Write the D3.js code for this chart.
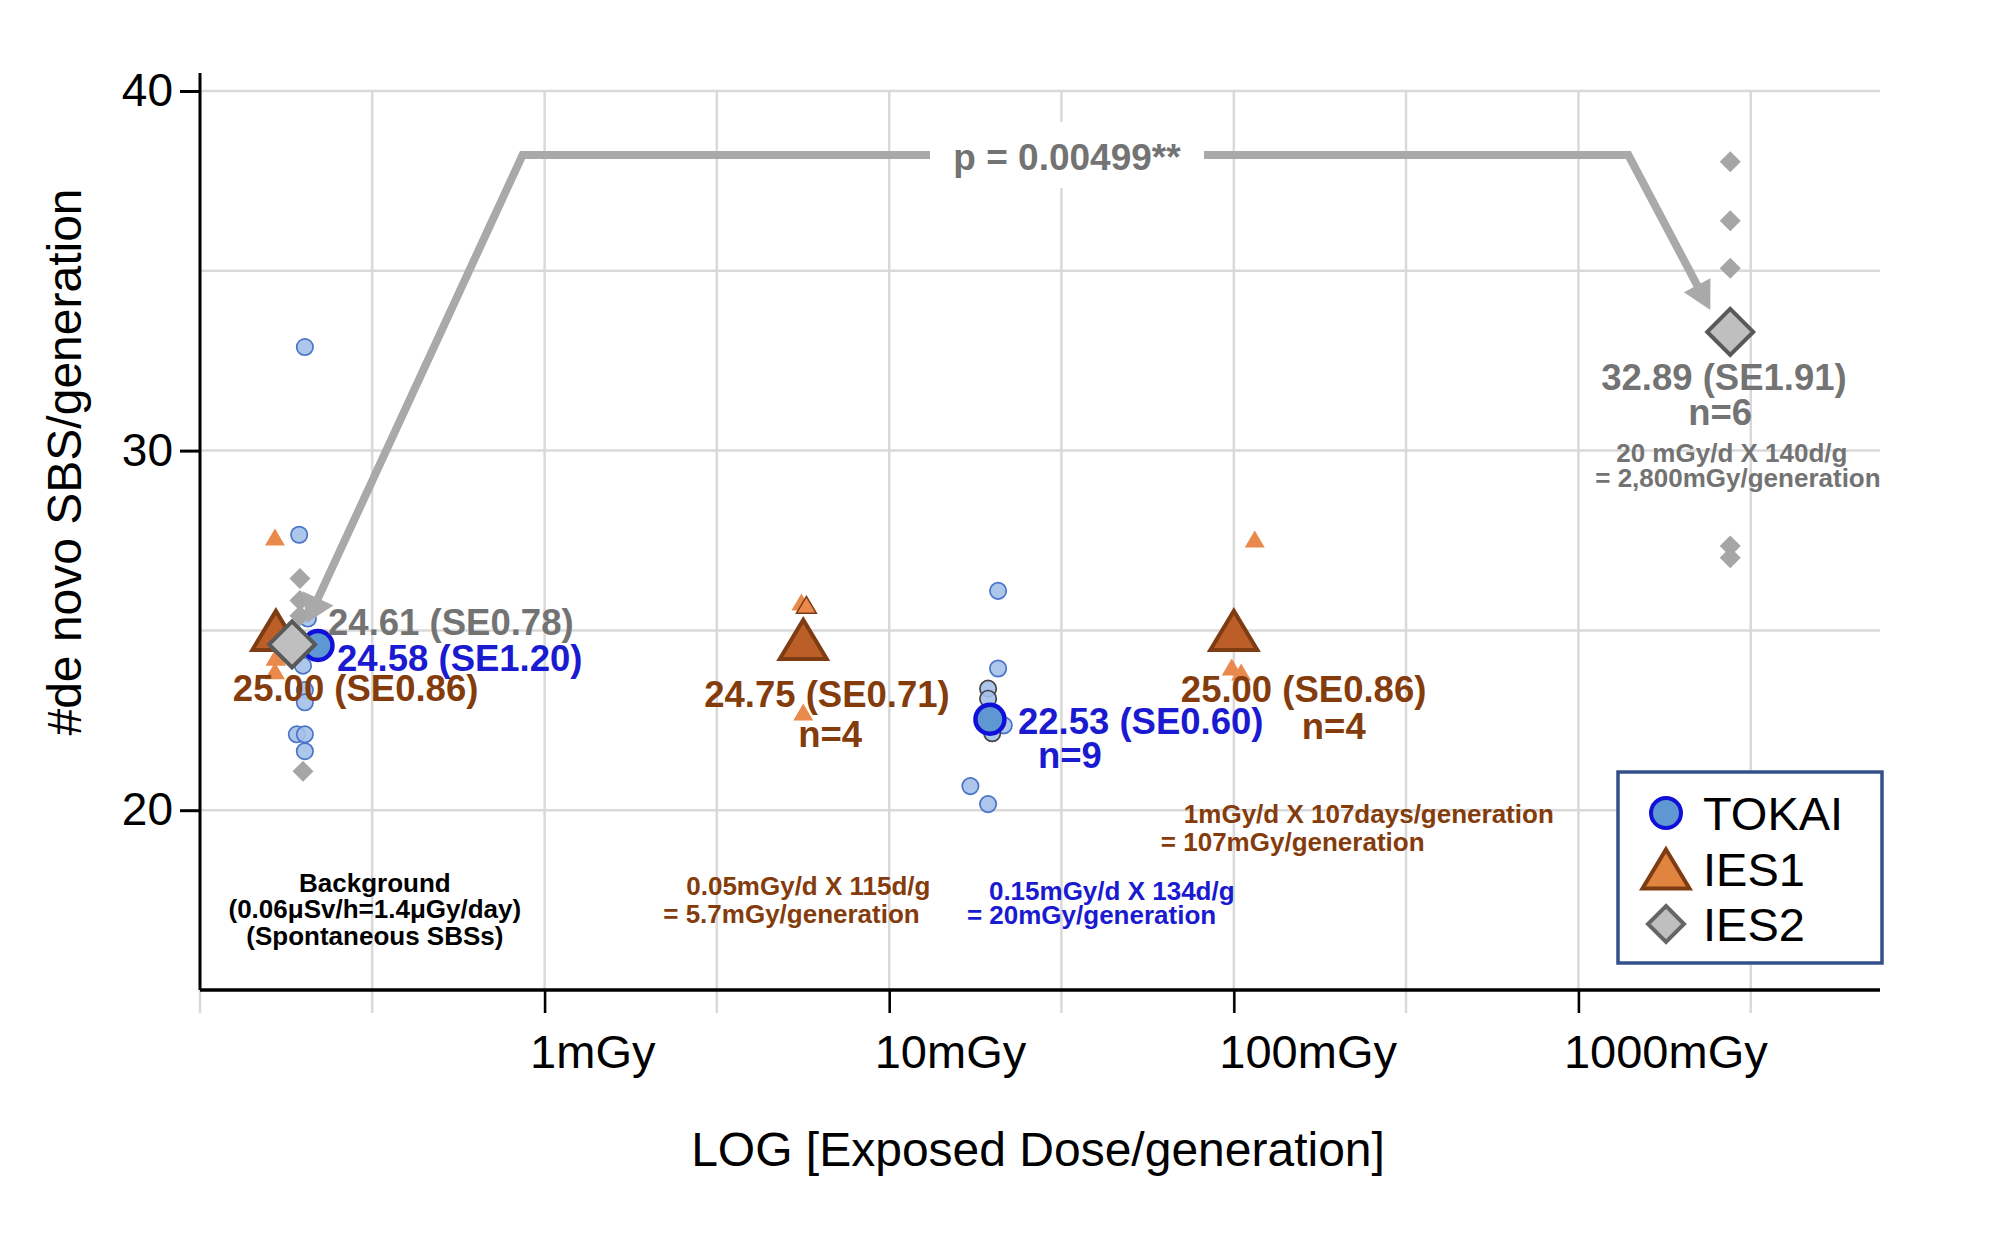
<!DOCTYPE html>
<html><head><meta charset="utf-8">
<script src="https://cdn.jsdelivr.net/npm/d3@7"></script>
<style>
html,body{margin:0;padding:0;background:#fff;}
svg{display:block;font-family:"Liberation Sans",Arial,Helvetica,sans-serif;}
</style></head><body>
<svg id="chart" width="2004" height="1234"></svg>
<script>
// ---------------- DATA ----------------
const xTickValues = [1, 10, 100, 1000];
const xTickLabels = ["1mGy", "10mGy", "100mGy", "1000mGy"];
const xGridValues = [0.1, 0.316, 1, 3.16, 10, 31.6, 100, 316, 1000, 3162];
const yTickValues = [20, 30, 40];
const yGridValues = [20, 25, 30, 35, 40];
const seriesNames = ["TOKAI", "IES1", "IES2"];

// individual samples (dose in mGy/generation, SBS/generation)
const tokaiDose  = [0.2015, 0.194, 0.2056, 0.199, 0.2015, 0.2015, 0.191, 0.2015, 0.2015,
                    20.7, 20.7, 19.36, 19.36, 19.6, 21.5, 19.9, 17.2, 19.36];
const tokaiValue = [32.88, 27.66, 25.33, 24.02, 23.34, 23.0, 22.11, 22.11, 21.64,
                    26.10, 23.94, 23.38, 23.10, 22.5, 22.36, 22.14, 20.67, 20.17];
const ies1Dose   = [0.165, 0.165, 0.166, 0.166, 5.56, 5.75, 5.63, 5.63, 115, 98.6, 105, 100];
const ies1Value  = [27.60, 23.88, 24.26, 24.26, 25.79, 25.71, 22.73, 24.70, 27.54, 23.98, 23.84, 24.64];
const ies2Dose   = [0.195, 0.195, 0.195, 0.199, 2757, 2757, 2757, 2757, 2757, 2757];
const ies2Value  = [26.44, 25.83, 25.41, 21.08, 38.03, 36.39, 35.07, 33.48, 27.35, 27.02];

// group means
const tokaiMeanDose  = [0.22, 19.6];
const tokaiMeanValue = [24.58, 22.53];
const ies1MeanDose   = [0.166, 5.63, 100];
const ies1MeanValue  = [25.00, 24.75, 25.00];
const ies2MeanDose   = [0.185, 2757];
const ies2MeanValue  = [24.61, 33.3];

// annotation texts
const tokaiMeanLabels = ["24.58 (SE1.20)", "22.53 (SE0.60)"];
const ies1MeanLabels  = ["25.00 (SE0.86)", "24.75 (SE0.71)", "25.00 (SE0.86)"];
const ies2MeanLabels  = ["24.61 (SE0.78)", "32.89 (SE1.91)"];
const nLabels = ["n=4", "n=9", "n=4", "n=6"];
const doseNotes = [
  ["0.05mGy/d X 115d/g", "= 5.7mGy/generation"],
  ["0.15mGy/d X 134d/g", "= 20mGy/generation"],
  ["1mGy/d X 107days/generation", "= 107mGy/generation"],
  ["20 mGy/d X 140d/g", "= 2,800mGy/generation"]
];
const backgroundNote = ["Background", "(0.06\u03bcSv/h=1.4\u03bcGy/day)", "(Spontaneous SBSs)"];

// p-value bracket (dose, value) and label
const pBracketDose  = [0.204, 0.863, 1396, 2413];
const pBracketValue = [25.21, 38.22, 38.22, 33.91];
const pLabel = "p = 0.00499**";
const pLabelDose = 32.8;

const xTitle = "LOG [Exposed Dose/generation]";
const yTitle = "#de novo SBS/generation";

// ---------------- STYLE ----------------
const C = {
  grid: "#d9d9d9", arrow: "#a9a9a9",
  blueText: "#1a1ad0", brownText: "#843c0c", grayText: "#737373",
  tokaiSmallFill: "#a5c1ea", tokaiSmallStroke: "#4a74c8", darkRing: "#454545",
  tokaiBigFill: "#5f97d2", tokaiBigStroke: "#1010d8",
  ies1SmallFill: "#e98a4c", ies1BigFill: "#bc5e28", ies1Stroke: "#7e3c12", ies1LegendFill: "#e0843f",
  ies2SmallFill: "#a6a6a6", ies2BigFill: "#bfbfbf", ies2Stroke: "#595959",
  legendBorder: "#34508a"
};
const darkRingIdx = [11, 12, 15];      // TOKAI samples drawn with a dark outline
const outlinedTriIdx = [5];            // IES1 sample drawn with a dark outline

const svg = d3.select("#chart");
const x = d3.scaleLog().domain([0.1, 7500]).range([200, 1880]);
const y = d3.scaleLinear().domain([15, 40]).range([990, 91]);

// gridlines
svg.append("g").selectAll("line").data(yGridValues).join("line")
  .attr("x1", x(0.1)).attr("x2", x(7500))
  .attr("y1", d => y(d)).attr("y2", d => y(d))
  .attr("stroke", C.grid).attr("stroke-width", 2.5);
svg.append("g").selectAll("line").data(xGridValues).join("line")
  .attr("x1", d => x(d)).attr("x2", d => x(d))
  .attr("y1", y(40)).attr("y2", y(15) + 23)
  .attr("stroke", C.grid).attr("stroke-width", 2.5);

// axes
const yAxisG = svg.append("g").attr("transform", `translate(${x(0.1)},0)`)
  .call(d3.axisLeft(y).tickValues(yTickValues).tickSize(20).tickPadding(7).tickFormat(d3.format("d")));
yAxisG.select(".domain").attr("d", `M0,${y(40.5)}V${y(15)}`).attr("stroke", "#000").attr("stroke-width", 3);
yAxisG.selectAll(".tick line").attr("stroke", "#000").attr("stroke-width", 3);
yAxisG.selectAll(".tick text").attr("font-size", 46).attr("fill", "#000")
  .attr("font-family", '"Liberation Sans",Arial,sans-serif');

const xAxisG = svg.append("g").attr("transform", `translate(0,${y(15)})`)
  .call(d3.axisBottom(x).tickValues(xTickValues).tickSize(23).tickFormat((d, i) => xTickLabels[i]));
xAxisG.select(".domain").attr("d", `M${x(0.1)},0H${x(7500)}`).attr("stroke", "#000").attr("stroke-width", 3.5);
xAxisG.selectAll(".tick line").attr("stroke", "#000").attr("stroke-width", 2.5);
xAxisG.selectAll(".tick text").attr("font-size", 47).attr("fill", "#000")
  .attr("text-anchor", "start").attr("x", -15).attr("y", 78).attr("dy", 0)
  .attr("font-family", '"Liberation Sans",Arial,sans-serif');

// titles
svg.append("text").attr("x", 1038).attr("y", 1166).attr("text-anchor", "middle")
  .attr("font-size", 48).attr("fill", "#000").text(xTitle);
svg.append("text").attr("transform", "translate(81,462) rotate(-90)").attr("text-anchor", "middle")
  .attr("font-size", 48).attr("fill", "#000").text(yTitle);

// symbol helpers
const triPath = (w, h) => `M0,${-h/2}L${w/2},${h/2}L${-w/2},${h/2}Z`;
const diaPath = r => `M0,${-r}L${r},0L0,${r}L${-r},0Z`;

// small points
const pts = svg.append("g");
pts.selectAll(".tok").data(tokaiValue.map((v, i) => [tokaiDose[i], v, i])).join("circle")
  .attr("cx", d => x(d[0])).attr("cy", d => y(d[1])).attr("r", 8.2)
  .attr("fill", C.tokaiSmallFill).attr("fill-opacity", 0.92)
  .attr("stroke", d => darkRingIdx.includes(d[2]) ? C.darkRing : C.tokaiSmallStroke)
  .attr("stroke-width", 1.7);
pts.selectAll(".ies1").data(ies1Value.map((v, i) => [ies1Dose[i], v, i])).join("path")
  .attr("transform", d => `translate(${x(d[0])},${y(d[1])})`).attr("d", triPath(20, 17))
  .attr("fill", C.ies1SmallFill)
  .attr("stroke", d => outlinedTriIdx.includes(d[2]) ? C.ies1Stroke : "none").attr("stroke-width", 1.5);
pts.selectAll(".ies2").data(ies2Value.map((v, i) => [ies2Dose[i], v])).join("path")
  .attr("transform", d => `translate(${x(d[0])},${y(d[1])})`).attr("d", diaPath(10.5))
  .attr("fill", C.ies2SmallFill);

// p-value bracket with arrowheads
const bp = pBracketDose.map((d, i) => [x(d), y(pBracketValue[i])]);
function arrowHead(P, T, L, W) {
  const dx = T[0] - P[0], dy = T[1] - P[1], len = Math.hypot(dx, dy);
  const ux = dx / len, uy = dy / len, nx = -uy, ny = ux;
  const b = [T[0] - ux * L, T[1] - uy * L];
  return { base: [b[0] + ux * 2, b[1] + uy * 2],
    poly: [T, [b[0] + nx * W, b[1] + ny * W], [b[0] - nx * W, b[1] - ny * W]] };
}
const ahL = arrowHead(bp[1], bp[0], 27, 17);
const ahR = arrowHead(bp[2], bp[3], 28, 15);
const linePts = [ahL.base, bp[1], bp[2], ahR.base];
svg.append("path").attr("d", d3.line()(linePts)).attr("fill", "none")
  .attr("stroke", C.arrow).attr("stroke-width", 8).attr("stroke-linejoin", "miter");
[ahL, ahR].forEach(a => svg.append("path").attr("d", d3.line()(a.poly) + "Z").attr("fill", C.arrow));
const pcx = x(pLabelDose);
svg.append("rect").attr("x", pcx - 137).attr("y", bp[1][1] - 33).attr("width", 274).attr("height", 66).attr("fill", "#fff");
svg.append("text").attr("x", pcx).attr("y", bp[1][1] + 15).attr("text-anchor", "middle")
  .attr("font-size", 37).attr("font-weight", "bold").attr("fill", C.grayText).text(pLabel);

// mean markers
const big = svg.append("g");
big.selectAll(".tm").data(tokaiMeanValue.map((v, i) => [tokaiMeanDose[i], v])).join("circle")
  .attr("cx", d => x(d[0])).attr("cy", d => y(d[1])).attr("r", 14.5)
  .attr("fill", C.tokaiBigFill).attr("stroke", C.tokaiBigStroke).attr("stroke-width", 4.5);
big.selectAll(".im").data(ies1MeanValue.map((v, i) => [ies1MeanDose[i], v])).join("path")
  .attr("transform", d => `translate(${x(d[0])},${y(d[1])})`).attr("d", triPath(47, 39))
  .attr("fill", C.ies1BigFill).attr("stroke", C.ies1Stroke).attr("stroke-width", 4);
big.selectAll(".dm").data(ies2MeanValue.map((v, i) => [ies2MeanDose[i], v])).join("path")
  .attr("transform", d => `translate(${x(d[0])},${y(d[1])})`).attr("d", diaPath(23))
  .attr("fill", C.ies2BigFill).attr("stroke", C.ies2Stroke).attr("stroke-width", 4);

// annotation helper (anchored to a mean marker, offset in px)
const ann = svg.append("g").attr("font-weight", "bold");
function label(dose, val, dx, dy, txt, color, size, anchor) {
  ann.append("text").attr("x", x(dose) + dx).attr("y", y(val) + dy)
    .attr("text-anchor", anchor || "start").attr("font-size", size).attr("fill", color).text(txt);
}
const S = 36.5, N = 26;
// background group
label(ies2MeanDose[0], ies2MeanValue[0], 36, -9, ies2MeanLabels[0], C.grayText, S);
label(tokaiMeanDose[0], tokaiMeanValue[0], 19, 25, tokaiMeanLabels[0], C.blueText, S);
label(ies1MeanDose[0], ies1MeanValue[0], -43, 71, ies1MeanLabels[0], C.brownText, S);
backgroundNote.forEach((t, i) => label(ies1MeanDose[0], ies1MeanValue[0], 99, 262 + [0, 26, 53][i], t, "#000", N, "middle"));
// 5.7 mGy
label(ies1MeanDose[1], ies1MeanValue[1], -99, 68, ies1MeanLabels[1], C.brownText, S);
label(ies1MeanDose[1], ies1MeanValue[1], -5, 108, nLabels[0], C.brownText, S);
label(ies1MeanDose[1], ies1MeanValue[1], -117, 256, doseNotes[0][0], C.brownText, N);
label(ies1MeanDose[1], ies1MeanValue[1], -140, 284, doseNotes[0][1], C.brownText, N);
// 20 mGy
label(tokaiMeanDose[1], tokaiMeanValue[1], 28, 15, tokaiMeanLabels[1], C.blueText, S);
label(tokaiMeanDose[1], tokaiMeanValue[1], 48, 49, nLabels[1], C.blueText, S);
label(tokaiMeanDose[1], tokaiMeanValue[1], -1, 181, doseNotes[1][0], C.blueText, N);
label(tokaiMeanDose[1], tokaiMeanValue[1], -23, 205, doseNotes[1][1], C.blueText, N);
// 107 mGy
label(ies1MeanDose[2], ies1MeanValue[2], -53, 72, ies1MeanLabels[2], C.brownText, S);
label(ies1MeanDose[2], ies1MeanValue[2], 68, 109, nLabels[2], C.brownText, S);
label(ies1MeanDose[2], ies1MeanValue[2], -50, 193, doseNotes[2][0], C.brownText, N);
label(ies1MeanDose[2], ies1MeanValue[2], -73, 221, doseNotes[2][1], C.brownText, N);
// 2800 mGy
label(ies2MeanDose[1], ies2MeanValue[1], -129, 58, ies2MeanLabels[1], C.grayText, S);
label(ies2MeanDose[1], ies2MeanValue[1], -42, 93, nLabels[3], C.grayText, S);
label(ies2MeanDose[1], ies2MeanValue[1], -114, 130, doseNotes[3][0], C.grayText, N);
label(ies2MeanDose[1], ies2MeanValue[1], -135, 155, doseNotes[3][1], C.grayText, N);

// legend
const lg = svg.append("g").attr("transform", "translate(1618,772)");
lg.append("rect").attr("x", 0).attr("y", 0).attr("width", 264).attr("height", 191)
  .attr("fill", "#fff").attr("stroke", C.legendBorder).attr("stroke-width", 3.5);
const legendSym = [
  g => g.append("circle").attr("r", 15).attr("fill", C.tokaiBigFill).attr("stroke", C.tokaiBigStroke).attr("stroke-width", 4),
  g => g.append("path").attr("d", triPath(47, 39)).attr("fill", C.ies1LegendFill).attr("stroke", C.ies1Stroke).attr("stroke-width", 4),
  g => g.append("path").attr("d", diaPath(18)).attr("fill", C.ies2BigFill).attr("stroke", "#666").attr("stroke-width", 4)
];
const legendY = [41, 97, 152];
seriesNames.forEach((nm, i) => {
  const g = lg.append("g").attr("transform", `translate(48,${legendY[i]})`);
  legendSym[i](g);
  lg.append("text").attr("x", 85).attr("y", legendY[i] + 17).attr("font-size", 47).attr("fill", "#000").text(nm);
});
</script>
</body></html>
